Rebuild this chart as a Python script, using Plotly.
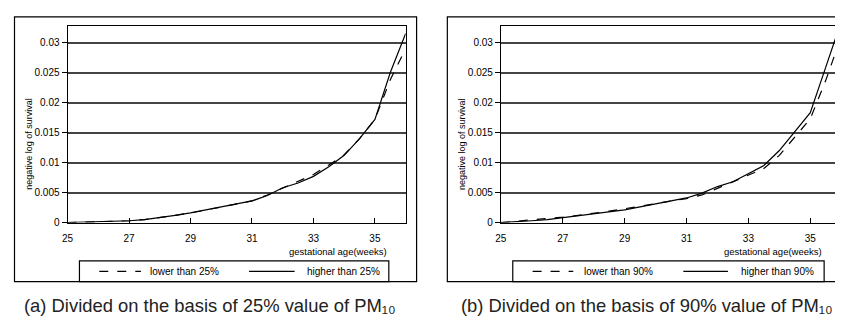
import plotly.graph_objects as go

# Empirical page offset of the figure inside the photographed window.
OFFX, OFFY = 10, 5
W, H = 843 - OFFX, 322 - OFFY

weeks = [25, 25.5, 26, 26.5, 27, 27.5, 28, 28.5, 29, 29.5, 30, 30.5, 31,
         31.5, 32, 32.5, 33, 33.5, 34, 34.5, 35, 35.5, 36]

# Panel (a): divided on 25% value of PM10
a_lower = [0, 0.00005, 0.0001, 0.0002, 0.0003, 0.0005, 0.0008, 0.0012, 0.0016,
           0.0021, 0.0026, 0.0031, 0.0036, 0.0046, 0.0057, 0.0068, 0.0080,
           0.0096, 0.0113, 0.0140, 0.0172, 0.0238, 0.0290]
a_higher = [0, 0.00005, 0.0001, 0.0002, 0.0003, 0.0005, 0.0008, 0.0012, 0.0016,
            0.0021, 0.0026, 0.0031, 0.0036, 0.0045, 0.0058, 0.0066, 0.0077,
            0.0093, 0.0112, 0.0140, 0.0172, 0.0250, 0.0315]

# Panel (b): divided on 90% value of PM10
b_lower = [0, 0.0002, 0.0004, 0.0006, 0.0009, 0.0012, 0.0015, 0.0019, 0.0023,
           0.0027, 0.0032, 0.0036, 0.0040, 0.0046, 0.0057, 0.0067, 0.0079,
           0.0090, 0.0112, 0.0143, 0.0173, 0.0237, 0.0310]
b_higher = [0, 0.0001, 0.0003, 0.0005, 0.0008, 0.0011, 0.0014, 0.0018, 0.0021,
            0.0026, 0.0031, 0.0036, 0.0041, 0.0049, 0.0060, 0.0068, 0.0081,
            0.0095, 0.0120, 0.0152, 0.0183, 0.0259, 0.0335]

x_ticks = [25, 27, 29, 31, 33, 35]
y_ticks = [0, 0.005, 0.01, 0.015, 0.02, 0.025, 0.03]
y_ticklabels = ["0", "0.005", "0.01", "0.015", "0.02", "0.025", "0.03"]

legend_a = ["lower than 25%", "higher than 25%"]
legend_b = ["lower than 90%", "higher than 90%"]
captions = ["(a) Divided on the basis of 25% value of PM₁₀",
            "(b) Divided on the basis of 90% value of PM₁₀"]
y_title = "negative log of survival"
x_title = "gestational age(weeks)"

FONT = "Liberation Sans Narrow, Arial Narrow, Liberation Sans, Arial, sans-serif"


def px(x):
    return (x - OFFX) / W


def py(y):
    return 1 - (y - OFFY) / H


fig = go.Figure()

fig.add_trace(go.Scatter(x=weeks, y=a_lower, mode="lines", xaxis="x", yaxis="y",
                         line=dict(color="black", width=1.2, dash="dash"), name=legend_a[0]))
fig.add_trace(go.Scatter(x=weeks, y=a_higher, mode="lines", xaxis="x", yaxis="y",
                         line=dict(color="black", width=1.2), name=legend_a[1]))
fig.add_trace(go.Scatter(x=weeks, y=b_lower, mode="lines", xaxis="x2", yaxis="y2",
                         line=dict(color="black", width=1.2, dash="dash"), name=legend_b[0]))
fig.add_trace(go.Scatter(x=weeks, y=b_higher, mode="lines", xaxis="x2", yaxis="y2",
                         line=dict(color="black", width=1.2), name=legend_b[1]))

ydom = [py(223), py(23)]
common_x = dict(tickmode="array", tickvals=x_ticks, ticks="inside", ticklen=5,
                tickcolor="black", showgrid=False, zeroline=False, showline=True,
                linecolor="black", linewidth=1, mirror=True,
                tickfont=dict(family=FONT, size=10, color="black"),
                ticklabelstandoff=6)
common_y = dict(range=[0, 0.0328], tickmode="array", tickvals=y_ticks,
                ticktext=y_ticklabels, ticks="outside", ticklen=5, tickcolor="black",
                showgrid=True, gridcolor="#444444", gridwidth=1.8, zeroline=False,
                showline=True, linecolor="black", linewidth=1, mirror=True,
                tickfont=dict(family=FONT, size=10, color="black"))

fig.update_layout(
    width=W, height=H, margin=dict(l=0, r=0, t=0, b=0),
    paper_bgcolor="white", plot_bgcolor="white", showlegend=False,
    xaxis=dict(domain=[px(64), px(405)], range=[25, 36], anchor="y", **common_x),
    yaxis=dict(domain=ydom, anchor="x", **common_y),
    xaxis2=dict(domain=[px(501), 1.0], range=[25, 35.96], anchor="y2", **common_x),
    yaxis2=dict(domain=ydom, anchor="x2", **common_y),
)

shapes = []
annotations = []

# outer boxes
shapes.append(dict(type="rect", xref="paper", yref="paper", x0=px(10.5), x1=px(416),
                   y0=py(283), y1=py(14), line=dict(color="black", width=1.2)))
shapes.append(dict(type="rect", xref="paper", yref="paper", x0=px(447), x1=px(860),
                   y0=py(283), y1=py(14), line=dict(color="black", width=1.2)))

panels = [
    dict(box=(76, 388), dash=(96, 138), dlab=145, solid=(247, 293), slab=303,
         labels=legend_a, ylab=25, xtitle=388, cap=208, caption=captions[0]),
    dict(box=(513, 827), dash=(533, 574), dlab=583, solid=(685, 730), slab=741,
         labels=legend_b, ylab=462, xtitle=827, cap=648, caption=captions[1]),
]

for p in panels:
    shapes.append(dict(type="rect", xref="paper", yref="paper", x0=px(p["box"][0]),
                       x1=px(p["box"][1]), y0=py(283), y1=py(262),
                       line=dict(color="black", width=1.2)))
    shapes.append(dict(type="line", xref="paper", yref="paper", x0=px(p["dash"][0]),
                       x1=px(p["dash"][1]), y0=py(272.5), y1=py(272.5),
                       line=dict(color="black", width=1.2, dash="dash")))
    shapes.append(dict(type="line", xref="paper", yref="paper", x0=px(p["solid"][0]),
                       x1=px(p["solid"][1]), y0=py(272.5), y1=py(272.5),
                       line=dict(color="black", width=1.2)))
    annotations.append(dict(xref="paper", yref="paper", x=px(p["dlab"]), y=py(272.5),
                            text=p["labels"][0], showarrow=False, xanchor="left",
                            yanchor="middle", font=dict(family=FONT, size=10, color="black")))
    annotations.append(dict(xref="paper", yref="paper", x=px(p["slab"]), y=py(272.5),
                            text=p["labels"][1], showarrow=False, xanchor="left",
                            yanchor="middle", font=dict(family=FONT, size=10, color="black")))
    annotations.append(dict(xref="paper", yref="paper", x=px(p["ylab"]), y=py(143),
                            text=y_title, showarrow=False, textangle=-90,
                            xanchor="center", yanchor="middle",
                            font=dict(family=FONT, size=9, color="black")))
    annotations.append(dict(xref="paper", yref="paper", x=px(p["xtitle"]), y=py(252),
                            text=x_title, showarrow=False, xanchor="right",
                            yanchor="middle", font=dict(family=FONT, size=9.5, color="black")))
    annotations.append(dict(xref="paper", yref="paper", x=px(p["cap"]), y=py(307),
                            text=p["caption"], showarrow=False, xanchor="center",
                            yanchor="middle", font=dict(family=FONT, size=18.4, color="#222222")))

fig.update_layout(shapes=shapes, annotations=annotations)

fig.write_html("out.html")
